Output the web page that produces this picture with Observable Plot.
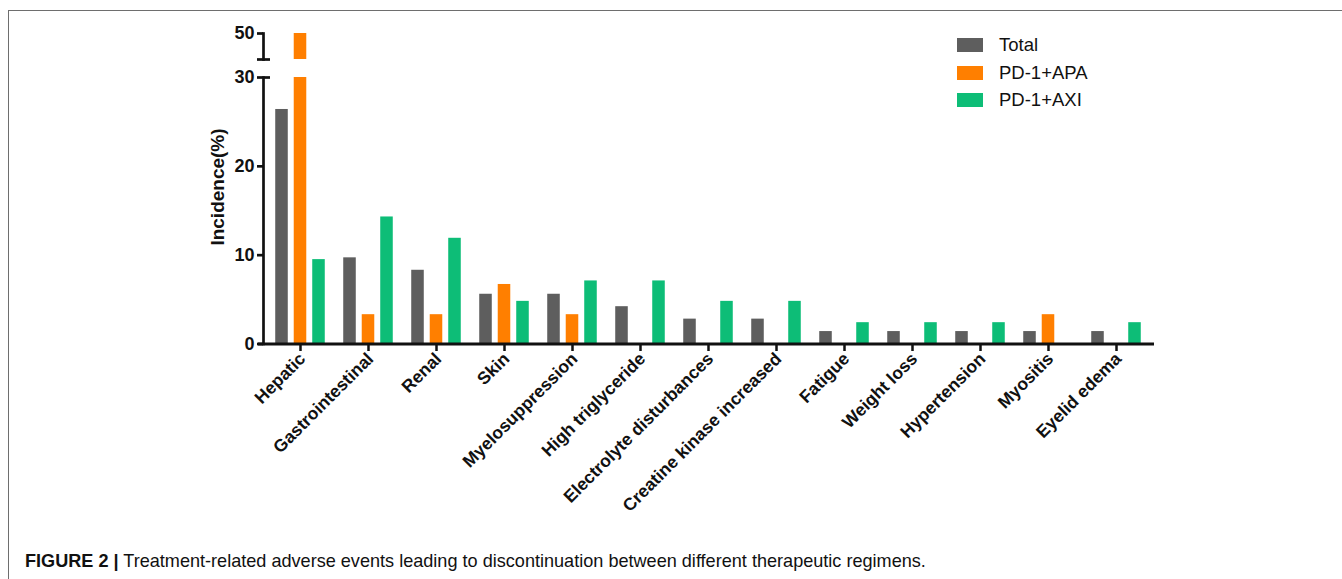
<!DOCTYPE html>
<html><head><meta charset="utf-8">
<script src="https://cdn.jsdelivr.net/npm/d3@7"></script>
<script src="https://cdn.jsdelivr.net/npm/@observablehq/plot@0.6"></script>
<style>
body{margin:0;background:#fff;font-family:"Liberation Sans",Arial,Helvetica,sans-serif;}
#wrap{position:relative;width:1342px;height:579px;overflow:hidden;background:#fff;}
#border{position:absolute;left:8px;top:10px;width:1400px;height:600px;border-left:1.6px solid #6e6e6e;border-top:1.6px solid #6e6e6e;}
#upper,#lower{position:absolute;left:0;top:0;}
#ylabel{position:absolute;left:218px;top:187px;transform:translate(-50%,-50%) rotate(-90deg);font-weight:bold;font-size:19px;white-space:nowrap;color:#111;}
#legend{position:absolute;left:957px;top:38px;}
.item{position:absolute;left:0;height:14px;white-space:nowrap;}
.sw{position:absolute;left:0;top:0;width:26px;height:14px;}
.lt{position:absolute;left:42px;top:-4px;font-size:18.5px;line-height:22px;color:#111;}
#caption{position:absolute;left:25px;top:551px;font-size:18.1px;white-space:nowrap;color:#111;}
#caption b{font-weight:bold;}
</style></head><body>
<div id="wrap">
  <div id="border"></div>
  <div id="lower"></div>
  <div id="upper"></div>
  <div id="ylabel">Incidence(%)</div>
  <div id="legend"></div>
  <div id="caption"><b>FIGURE 2 |</b> Treatment-related adverse events leading to discontinuation between different therapeutic regimens.</div>
</div>
<script>
const categories = ["Hepatic","Gastrointestinal","Renal","Skin","Myelosuppression","High triglyceride","Electrolyte disturbances","Creatine kinase increased","Fatigue","Weight loss","Hypertension","Myositis","Eyelid edema"];
const seriesNames = ["Total","PD-1+APA","PD-1+AXI"];
const totalValues = [26.4,9.7,8.3,5.6,5.6,4.2,2.8,2.8,1.4,1.4,1.4,1.4,1.4];
const apaValues   = [50,3.3,3.3,6.7,3.3,0,0,0,0,0,0,3.3,0];
const axiValues   = [9.5,14.3,11.9,4.8,7.1,7.1,4.8,4.8,2.4,2.4,2.4,0,2.4];
const seriesColors = ["#5e5e5e","#ff7f00","#0dbd77"];
const lowerTicks = [0,10,20,30];
const upperTicks = [50];
const breakLow = 47.1;   // bottom of the upper (broken) segment
const breakHigh = 30;    // top of the lower segment

const seriesValues = [totalValues, apaValues, axiValues];
const rows = seriesValues.map((vals, s) => categories.map((c, i) => ({category: c, series: seriesNames[s], value: vals[i]})));

const W = 1342, H = 579;
const mL = 263, mR = 189;
const barW = 13, barStep = 18.5;
const font = "Liberation Sans, Arial, sans-serif";
const fmt = d3.format("d");

const bandW = (W - mL - mR) / categories.length;
const inset = (bandW - barW) / 2;
function barsInset() {
  return rows.map((data, s) => Plot.barY(data, {
    x: "category", y: "value", fill: seriesColors[s], clip: true,
    dx: (s - 1) * barStep, insetLeft: inset, insetRight: inset
  }));
}

const lower = Plot.plot({
  width: W, height: H,
  marginLeft: mL, marginRight: mR, marginTop: 77, marginBottom: H - 343.5,
  style: {fontFamily: font, background: "transparent", color: "#111"},
  x: {domain: categories, padding: 0, axis: null},
  y: {domain: [0, breakHigh], axis: null},
  marks: [
    ...barsInset(),
    Plot.ruleY([0], {strokeWidth: 3, stroke: "#111", insetLeft: -5, insetRight: -1}),
    Plot.frame({anchor: "left", strokeWidth: 2.7, stroke: "#111"}),
    Plot.axisY({ticks: lowerTicks, tickFormat: fmt, tickSize: 6, tickPadding: 3, strokeWidth: 2.7, fontSize: 18, fontWeight: "bold", label: null, stroke: "#111"}),
    Plot.axisY({ticks: [breakHigh], tickSize: -7, tickFormat: () => "", strokeWidth: 2.7, label: null, stroke: "#111"}),
    Plot.axisX({tickRotate: -45, tickSize: 7.5, strokeWidth: 2.5, stroke: "#111", tickFormat: () => "", label: null}),
    Plot.axisX({tickRotate: -45, tickSize: 0, tickPadding: 12, dx: 2, fontSize: 17.5, fontWeight: "bold", label: null})
  ]
});
document.getElementById("lower").appendChild(lower);

const upperH = 70;
const upper = Plot.plot({
  width: W, height: upperH,
  marginLeft: mL, marginRight: mR, marginTop: 33, marginBottom: upperH - 59,
  style: {fontFamily: font, background: "transparent", color: "#111"},
  x: {domain: categories, padding: 0, axis: null},
  y: {domain: [breakLow, 50], axis: null},
  marks: [
    ...barsInset(),
    Plot.frame({anchor: "left", strokeWidth: 2.7, stroke: "#111"}),
    Plot.axisY({ticks: upperTicks, tickFormat: fmt, tickSize: 6, tickPadding: 3, strokeWidth: 2.7, fontSize: 18, fontWeight: "bold", label: null, stroke: "#111"}),
    Plot.axisY({ticks: [breakLow], tickSize: 6, tickFormat: () => "", strokeWidth: 2.7, label: null, stroke: "#111"}),
    Plot.axisY({ticks: [breakLow], tickSize: -7, tickFormat: () => "", strokeWidth: 2.7, label: null, stroke: "#111"})
  ]
});
document.getElementById("upper").appendChild(upper);

const legend = document.getElementById("legend");
seriesNames.forEach((name, i) => {
  const it = document.createElement("div");
  it.className = "item";
  it.style.top = (i * 27.5) + "px";
  it.innerHTML = `<div class="sw" style="background:${seriesColors[i]}"></div><div class="lt">${name}</div>`;
  legend.appendChild(it);
});
</script>
</body></html>
